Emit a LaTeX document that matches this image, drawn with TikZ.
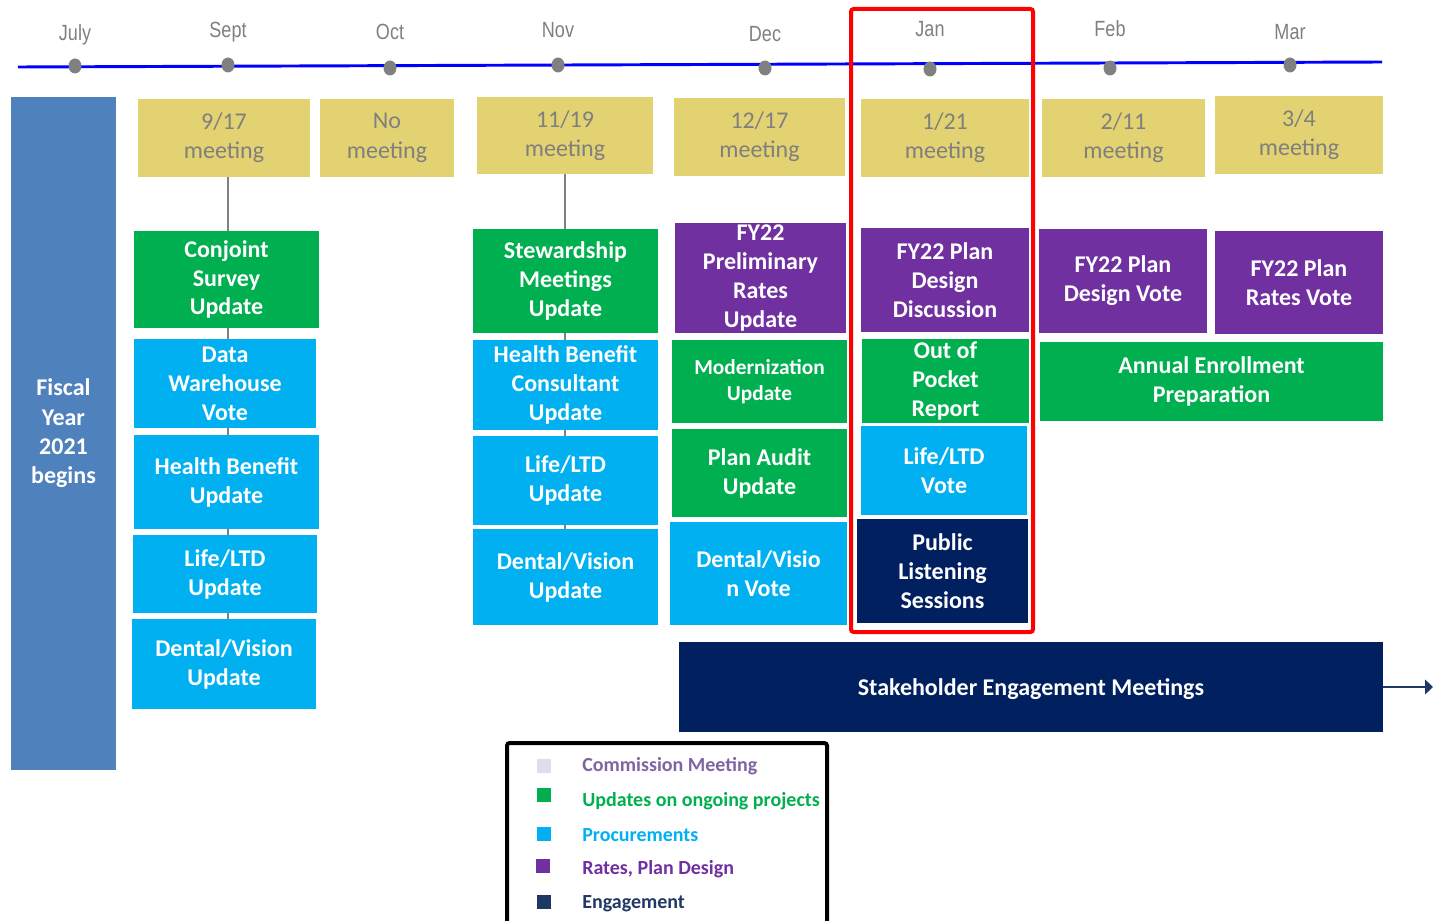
\documentclass[tikz,border=0pt]{standalone}
\usepackage{fontspec}
\newfontfamily\calfont{Carlito}
\newfontfamily\narrowfont[FakeStretch=0.82]{Liberation Sans}
\usetikzlibrary{arrows.meta,shapes.geometric,backgrounds}

\definecolor{fyblue}{HTML}{4F81BD}
\definecolor{meetfill}{HTML}{E3D272}
\definecolor{meettext}{HTML}{7F7F7F}
\definecolor{cgreen}{HTML}{00B050}
\definecolor{cblue}{HTML}{00B0F0}
\definecolor{cpurple}{HTML}{7030A0}
\definecolor{cnavy}{HTML}{002060}
\definecolor{engnavy}{HTML}{1F3864}
\definecolor{lavender}{HTML}{E1DCEA}
\definecolor{commtext}{HTML}{8064A2}
\definecolor{tlblue}{HTML}{0000FF}
\definecolor{dotgrey}{HTML}{808080}

\begin{document}
\begin{tikzpicture}[x=0.75pt,y=-0.75pt,
  wh/.style 2 args={minimum width=#1*0.75pt, minimum height=#2*0.75pt},
  % a taller first-line strut sets the text a little below the box centre
  lowstrut/.style={execute at begin node={\rule{0pt}{#1}}},
  box/.style={inner sep=0pt, align=center, text=white, lowstrut=16.5pt,
    font=\calfont\bfseries\fontsize{18}{21.7}\selectfont},
  greenbox/.style={box, fill=cgreen},
  bluebox/.style={box, fill=cblue},
  purplebox/.style={box, fill=cpurple},
  navybox/.style={box, fill=cnavy},
  meetbox/.style={inner sep=0pt, align=center, fill=meetfill, text=meettext, lowstrut=17.5pt,
    font=\calfont\fontsize{18}{22}\selectfont},
  month/.style={text=meettext, font=\narrowfont\fontsize{16.5}{19}\selectfont},
  dot/.style={ellipse, fill=dotgrey, inner sep=0pt, minimum width=13*0.75pt, minimum height=15*0.75pt},
  conn/.style={draw=dotgrey, line width=1.5pt},
  legsq/.style={inner sep=0pt, minimum size=14*0.75pt},
  legtext/.style={anchor=west, inner sep=0pt, font=\calfont\bfseries\fontsize{15}{18}\selectfont},
]
\useasboundingbox (0,0) rectangle (1433,920);

% timeline
\coordinate (tlstart) at (18,67);
\coordinate (tlend) at (1382,62);
\draw[tlblue, line width=2.2pt] (tlstart) -- (tlend);

\foreach \name/\lab/\x/\y/\ly in {jul/July/75/66/35, sep/Sept/228/65/32, oct/Oct/390/68/32,
  nov/Nov/558/65/30, dec/Dec/765/68/34, jan/Jan/930/69/29, feb/Feb/1110/68/29, mar/Mar/1290/65/32}{
  \node[dot] (d\name) at (\x,\y) {};
  \node[month] (l\name) at (\x,\ly) {\lab};
}

% fiscal year bar
\node[box, fill=fyblue, wh={105}{673}, font=\calfont\bfseries\fontsize{18}{22}\selectfont] (fiscal) at (63.5,433.5) {Fiscal\\Year\\2021\\begins};

% commission meetings
\node[meetbox, wh={172}{78}] (m917) at (224,138) {9/17\\meeting};
\node[meetbox, wh={134}{78}] (mno) at (387,138) {No\\meeting};
\node[meetbox, wh={176}{77}] (m1119) at (565,135.5) {11/19\\meeting};
\node[meetbox, wh={171}{78}] (m1217) at (759.5,137) {12/17\\meeting};
\node[meetbox, wh={168}{78}] (m121) at (945,138) {1/21\\meeting};
\node[meetbox, wh={163}{78}] (m211) at (1123.5,138) {2/11\\meeting};
\node[meetbox, wh={168}{78}] (m34) at (1299,135) {3/4\\meeting};

% September items
\node[greenbox, wh={185}{97}] (conjoint) at (226.5,279.5) {Conjoint\\Survey\\Update};
\node[bluebox, wh={182}{89}] (datawh) at (225,383.5) {Data\\Warehouse\\Vote};
\node[bluebox, wh={185}{94}] (hbu) at (226.5,482) {Health Benefit\\Update};
\node[bluebox, wh={184}{78}] (lifeA) at (225,574) {Life/LTD\\Update};
\node[bluebox, wh={184}{90}] (dvA) at (224,664) {Dental/Vision\\Update};

% November items
\node[greenbox, wh={185}{104}] (steward) at (565.5,281) {Stewardship\\Meetings\\Update};
\node[bluebox, wh={185}{90}] (hbc) at (565.5,385) {Health Benefit\\Consultant\\Update};
\node[bluebox, wh={185}{89}] (lifeB) at (565.5,480.5) {Life/LTD\\Update};
\node[bluebox, wh={185}{96}] (dvB) at (565.5,577) {Dental/Vision\\Update};

% December items
\node[purplebox, wh={171}{110}] (prelim) at (760.5,278) {FY22\\Preliminary\\Rates\\Update};
\node[greenbox, wh={175}{83}, lowstrut=13.5pt, font=\calfont\bfseries\fontsize{16}{19.5}\selectfont] (modern) at (759.5,381.5) {Modernization\\Update};
\node[greenbox, wh={175}{88}] (audit) at (759.5,473) {Plan Audit\\Update};
\node[bluebox, wh={177}{103}] (dvvote) at (758.5,573.5) {Dental/Visio\\n Vote};

% January items
\node[purplebox, wh={168}{104}] (designdisc) at (945,280) {FY22 Plan\\Design\\Discussion};
\node[greenbox, wh={167}{84}] (oop) at (945.5,381) {Out of\\Pocket\\Report};
\node[bluebox, wh={166}{89}] (lifevote) at (944,470.5) {Life/LTD\\Vote};
\node[navybox, wh={171}{104}] (pls) at (942.5,571) {Public\\Listening\\Sessions};

% February / March items
\node[purplebox, wh={168}{104}] (designvote) at (1123,281) {FY22 Plan\\Design Vote};
\node[purplebox, wh={168}{103}] (ratesvote) at (1299,282.5) {FY22 Plan\\Rates Vote};
\node[greenbox, wh={343}{79}] (enroll) at (1211.5,381.5) {Annual Enrollment\\Preparation};

% engagement band
\node[navybox, wh={704}{90}] (stake) at (1031,687) {Stakeholder Engagement Meetings};
\coordinate (stakeend) at (1433,687);
\draw[engnavy, line width=2.2pt, -{Triangle[length=6pt,width=11pt]}] (stake.east) -- (stakeend);

% connectors from meetings down through their item stacks
\begin{pgfonlayer}{background}
  \draw[conn] (m917.south -| dsep) -- (dvA.north -| dsep);
  \draw[conn] (m1119.south) -- (m1119.south |- dvB.north);
\end{pgfonlayer}

% January highlight
\node[draw=red, line width=3pt, rounded corners=2pt, wh={182}{623}] (janframe) at (942,320.5) {};

% legend
\node[draw=black, line width=3pt, rounded corners=2pt, wh={320}{182}] (legend) at (667,834) {};
\node[legsq, fill=lavender] (sqcomm) at (544,766) {};
\node[legsq, fill=cgreen] (squpd) at (543.5,795) {};
\node[legsq, fill=cblue] (sqproc) at (543.5,834) {};
\node[legsq, fill=cpurple] (sqrates) at (542.5,866) {};
\node[legsq, fill=engnavy] (sqeng) at (543.5,902) {};
\node[legtext, text=commtext] (tcomm) at (582,766) {Commission Meeting};
\node[legtext, text=cgreen] (tupd) at (582,801) {Updates on ongoing projects};
\node[legtext, text=cblue] (tproc) at (582,835) {Procurements};
\node[legtext, text=cpurple] (trates) at (582,869) {Rates, Plan Design};
\node[legtext, text=engnavy] (teng) at (582,904) {Engagement};
\end{tikzpicture}
\end{document}
